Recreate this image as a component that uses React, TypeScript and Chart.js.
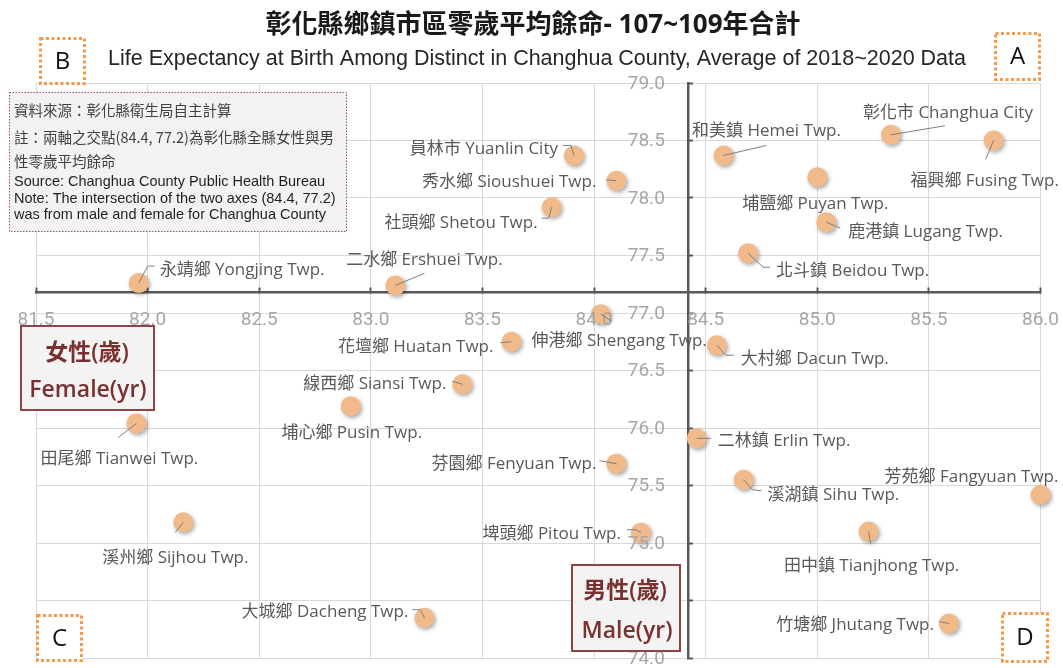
import React, { useEffect, useRef } from 'react';
import { Chart, registerables } from 'chart.js';

Chart.register(...registerables);

// ---------------- data ----------------
const townships = [
  '彰化市 Changhua City', '福興鄉 Fusing Twp.', '和美鎮 Hemei Twp.', '埔鹽鄉 Puyan Twp.',
  '鹿港鎮 Lugang Twp.', '北斗鎮 Beidou Twp.', '員林市 Yuanlin City', '秀水鄉 Sioushuei Twp.',
  '社頭鄉 Shetou Twp.', '永靖鄉 Yongjing Twp.', '二水鄉 Ershuei Twp.', '花壇鄉 Huatan Twp.',
  '伸港鄉 Shengang Twp.', '大村鄉 Dacun Twp.', '線西鄉 Siansi Twp.', '埔心鄉 Pusin Twp.',
  '田尾鄉 Tianwei Twp.', '二林鎮 Erlin Twp.', '芬園鄉 Fenyuan Twp.', '溪湖鎮 Sihu Twp.',
  '芳苑鄉 Fangyuan Twp.', '埤頭鄉 Pitou Twp.', '田中鎮 Tianjhong Twp.', '溪州鄉 Sijhou Twp.',
  '大城鄉 Dacheng Twp.', '竹塘鄉 Jhutang Twp.',
];
const femaleLE = [
  85.33, 85.79, 84.58, 85.0, 85.04, 84.69, 83.91, 84.1, 83.81, 81.96, 83.11, 83.63, 84.03,
  84.55, 83.41, 82.91, 81.95, 84.46, 84.1, 84.67, 86.0, 84.21, 85.23, 82.16, 83.24, 85.59,
];
const maleLE = [
  78.55, 78.5, 78.37, 78.18, 77.79, 77.52, 78.37, 78.15, 77.92, 77.26, 77.24, 76.75, 76.99,
  76.72, 76.38, 76.19, 76.04, 75.91, 75.69, 75.55, 75.42, 75.09, 75.1, 75.18, 74.35, 74.3,
];
const FEMALE_MIN = 81.5;
const FEMALE_MAX = 86.0;
const MALE_MIN = 74.0;
const MALE_MAX = 79.0;
const TICK_STEP = 0.5;
const CROSS_FEMALE = 84.42; // county value (84.4)
const CROSS_MALE = 77.18; // county value (77.2)

const TITLE = '彰化縣鄉鎮市區零歲平均餘命- 107~109年合計';
const SUBTITLE = 'Life Expectancy at Birth Among Distinct in Changhua County, Average of 2018~2020 Data';
const NOTE_ZH = ['資料來源：彰化縣衛生局自主計算', '註：兩軸之交點(84.4, 77.2)為彰化縣全縣女性與男', '性零歲平均餘命'];
const NOTE_EN = [
  'Source: Changhua County Public Health Bureau',
  'Note: The intersection of the two axes (84.4, 77.2)',
  'was from male and female for Changhua County',
];
const FEMALE_AXIS = ['女性(歲)', 'Female(yr)'];
const MALE_AXIS = ['男性(歲)', 'Male(yr)'];
const QUADRANTS = ['A', 'B', 'C', 'D'];

// ---------------- label layout (pixel offsets from each point) ----------------
type LabelLayout = { align: CanvasTextAlign; dx: number; dy: number; line: number[][] };
const labelLayout: LabelLayout[] = [
  { align: 'center', dx: 57, dy: -24, line: [[54, -9]] },
  { align: 'center', dx: -9, dy: 39, line: [[-8, 19]] },
  { align: 'center', dx: 43, dy: -26, line: [[43, -10]] },
  { align: 'center', dx: -2, dy: 25, line: [] },
  { align: 'left', dx: 22, dy: 8, line: [[14, 6]] },
  { align: 'left', dx: 28, dy: 16, line: [[15, 14], [22, 14]] },
  { align: 'right', dx: -16, dy: -8, line: [[-3, -10], [-11, -10]] },
  { align: 'right', dx: -20, dy: -1, line: [[-10, -1]] },
  { align: 'right', dx: -14, dy: 14, line: [[-3, 11], [-10, 11]] },
  { align: 'left', dx: 21, dy: -15, line: [[9, -17], [16, -17]] },
  { align: 'center', dx: 29, dy: -27, line: [[29, -12]] },
  { align: 'right', dx: -18, dy: 3, line: [[-11, 1]] },
  { align: 'right', dx: 106, dy: 25, line: [[11, 7]] },
  { align: 'left', dx: 24, dy: 12, line: [[9, 10], [17, 10]] },
  { align: 'right', dx: -16, dy: -2, line: [[-10, -3]] },
  { align: 'center', dx: 1, dy: 25, line: [] },
  { align: 'center', dx: -17, dy: 34, line: [[-18, 14]] },
  { align: 'left', dx: 21, dy: 1, line: [[14, 0]] },
  { align: 'right', dx: -20, dy: -1, line: [[-17, -3]] },
  { align: 'left', dx: 24, dy: 13, line: [[9, 10], [18, 11]] },
  { align: 'center', dx: -69, dy: -20, line: [] },
  { align: 'right', dx: -20, dy: 0, line: [[-5, -3], [-14, -3]] },
  { align: 'center', dx: 3, dy: 33, line: [[2, 12]] },
  { align: 'center', dx: -8, dy: 34, line: [[-8, 10]] },
  { align: 'right', dx: -16, dy: -8, line: [[-4, -8], [-12, -8]] },
  { align: 'right', dx: -15, dy: 0, line: [[-10, -2]] },
];
const LABEL_BASELINE_SHIFT = 2;

// ---------------- styles ----------------
const POINT_COLOR = '#F0BA8B';
const LABEL_FONT = '17px "Open Sans", "Noto Sans CJK TC", sans-serif';
const LABEL_COLOR = '#595959';
const TICK_FONT = '19px "Liberation Sans Narrow", Roboto, sans-serif';
const TICK_COLOR = '#A6A6A6';
const AXIS_COLOR = '#595959';
const GRID_COLOR = '#D9D9D9';
const DARK_RED = '#7B3030';
const ORANGE = '#F59A4C';

function box(ctx: CanvasRenderingContext2D, x: number, y: number, w: number, h: number,
  fill: string | null, stroke: string, lw: number, dash: number[]) {
  ctx.save();
  if (fill) {
    ctx.fillStyle = fill;
    ctx.fillRect(x, y, w, h);
  }
  ctx.strokeStyle = stroke;
  ctx.lineWidth = lw;
  ctx.setLineDash(dash);
  ctx.strokeRect(x, y, w, h);
  ctx.restore();
}

const annotations = {
  id: 'annotations',
  beforeDatasetsDraw(chart: any) {
    const ctx = chart.ctx;
    ctx.save();
    ctx.shadowColor = 'rgba(0,0,0,0.35)';
    ctx.shadowBlur = 4;
    ctx.shadowOffsetX = 1.5;
    ctx.shadowOffsetY = 2;
  },
  afterDatasetsDraw(chart: any) {
    const ctx: CanvasRenderingContext2D = chart.ctx;
    ctx.restore();
    const xs = chart.scales.x;
    const ys = chart.scales.y;

    // tick labels
    ctx.save();
    ctx.font = TICK_FONT;
    ctx.fillStyle = TICK_COLOR;
    ctx.textBaseline = 'middle';
    ctx.textAlign = 'center';
    const xAxisY = ys.getPixelForValue(CROSS_MALE);
    xs.ticks.forEach((t: any) => ctx.fillText(Number(t.value).toFixed(1), xs.getPixelForValue(t.value), xAxisY + 28));
    ctx.textAlign = 'right';
    const yAxisX = xs.getPixelForValue(CROSS_FEMALE);
    ys.ticks.forEach((t: any) => ctx.fillText(Number(t.value).toFixed(1), yAxisX - 23, ys.getPixelForValue(t.value) + 1));
    ctx.restore();

    // point labels and leader lines
    const meta = chart.getDatasetMeta(0);
    ctx.save();
    ctx.strokeStyle = '#7F7F7F';
    ctx.lineWidth = 1;
    ctx.font = LABEL_FONT;
    ctx.fillStyle = LABEL_COLOR;
    ctx.textBaseline = 'middle';
    meta.data.forEach((pt: any, i: number) => {
      const L = labelLayout[i];
      if (L.line.length) {
        ctx.beginPath();
        ctx.moveTo(pt.x, pt.y);
        L.line.forEach(([dx, dy]) => ctx.lineTo(pt.x + dx, pt.y + dy));
        ctx.stroke();
      }
      ctx.textAlign = L.align;
      ctx.fillText(townships[i], pt.x + L.dx, pt.y + L.dy + LABEL_BASELINE_SHIFT);
    });
    ctx.restore();
  },
  afterDraw(chart: any) {
    const ctx: CanvasRenderingContext2D = chart.ctx;
    ctx.save();
    // titles
    ctx.textAlign = 'center';
    ctx.textBaseline = 'middle';
    ctx.fillStyle = '#1a1a1a';
    ctx.font = 'bold 26px "Open Sans", "Noto Sans CJK TC", sans-serif';
    ctx.fillText(TITLE, 533, 26);
    ctx.font = '21.5px "Liberation Sans", Arial, sans-serif';
    ctx.fillStyle = '#262626';
    ctx.fillText(SUBTITLE, 537, 59);

    // note box
    box(ctx, 9.5, 92.5, 337, 139, '#F2F2F2', '#A05050', 1, [1.5, 1.5]);
    ctx.textAlign = 'left';
    ctx.fillStyle = '#404040';
    ctx.font = '14.5px "Noto Sans CJK TC", sans-serif';
    [110, 137, 161].forEach((y, i) => ctx.fillText(NOTE_ZH[i], 14, y));
    ctx.fillStyle = '#1f1f1f';
    ctx.font = '14.5px "Liberation Sans", Arial, sans-serif';
    [182, 199, 215].forEach((y, i) => ctx.fillText(NOTE_EN[i], 14, y));

    // axis name boxes
    box(ctx, 21, 326, 133, 84, 'rgba(242,242,242,0.92)', '#8B4545', 2, []);
    box(ctx, 572, 565, 108, 86, 'rgba(242,242,242,0.92)', '#8B4545', 2, []);
    ctx.textAlign = 'center';
    ctx.fillStyle = DARK_RED;
    ctx.font = '600 23px "Open Sans", "Noto Sans CJK TC", sans-serif';
    ctx.fillText(FEMALE_AXIS[0], 87, 353);
    ctx.fillText(FEMALE_AXIS[1], 88, 390);
    ctx.fillText(MALE_AXIS[0], 625, 591);
    ctx.fillText(MALE_AXIS[1], 627, 631);

    // quadrant boxes
    const quads = [
      [995.5, 33.5, 44, 46],
      [40.5, 38.5, 44, 45],
      [37.5, 615.5, 44, 45],
      [1002.5, 613.5, 45, 48],
    ];
    ctx.font = '24px "Open Sans", sans-serif';
    ctx.fillStyle = '#111111';
    quads.forEach(([x, y, w, h], i) => {
      box(ctx, x, y, w, h, '#FFFFFF', ORANGE, 3, [3, 2.5]);
      ctx.fillText(QUADRANTS[i], x + w / 2, y + h / 2 + 1);
    });
    ctx.restore();
  },
};

export default function App() {
  const ref = useRef<HTMLCanvasElement>(null);
  useEffect(() => {
    const canvas = ref.current;
    if (!canvas) return;
    const points = femaleLE.map((f, i) => ({ x: f, y: maleLE[i] }));
    const chart = new Chart(canvas, {
      type: 'scatter',
      data: {
        datasets: [
          {
            data: points,
            pointRadius: 10,
            pointHoverRadius: 10,
            backgroundColor: POINT_COLOR,
            borderWidth: 0,
            clip: false as any,
          },
        ],
      },
      options: {
        responsive: false,
        animation: false,
        events: [],
        layout: { padding: { left: 36, top: 83, right: 22.5, bottom: 6.3 } },
        plugins: {
          legend: { display: false },
          tooltip: { enabled: false },
          title: { display: false },
        },
        scales: {
          x: {
            type: 'linear',
            min: FEMALE_MIN,
            max: FEMALE_MAX,
            position: { y: CROSS_MALE } as any,
            ticks: { stepSize: TICK_STEP, display: false, autoSkip: false },
            grid: { color: GRID_COLOR, lineWidth: 1, tickLength: -6, tickColor: AXIS_COLOR, tickWidth: 2 },
            border: { color: AXIS_COLOR, width: 2.5 },
          },
          y: {
            type: 'linear',
            min: MALE_MIN,
            max: MALE_MAX,
            position: { x: CROSS_FEMALE } as any,
            ticks: { stepSize: TICK_STEP, display: false, autoSkip: false },
            grid: { color: GRID_COLOR, lineWidth: 1, tickLength: -6, tickColor: AXIS_COLOR, tickWidth: 2 },
            border: { color: AXIS_COLOR, width: 2.5 },
          },
        },
      },
      plugins: [annotations],
    });
    return () => chart.destroy();
  }, []);
  return (
    <div style={{ position: 'fixed', left: 0, top: 0, width: 1063, height: 668, background: '#ffffff' }}>
      <canvas ref={ref} width={1063} height={668} style={{ display: 'block', width: 1063, height: 668 }} />
    </div>
  );
}
